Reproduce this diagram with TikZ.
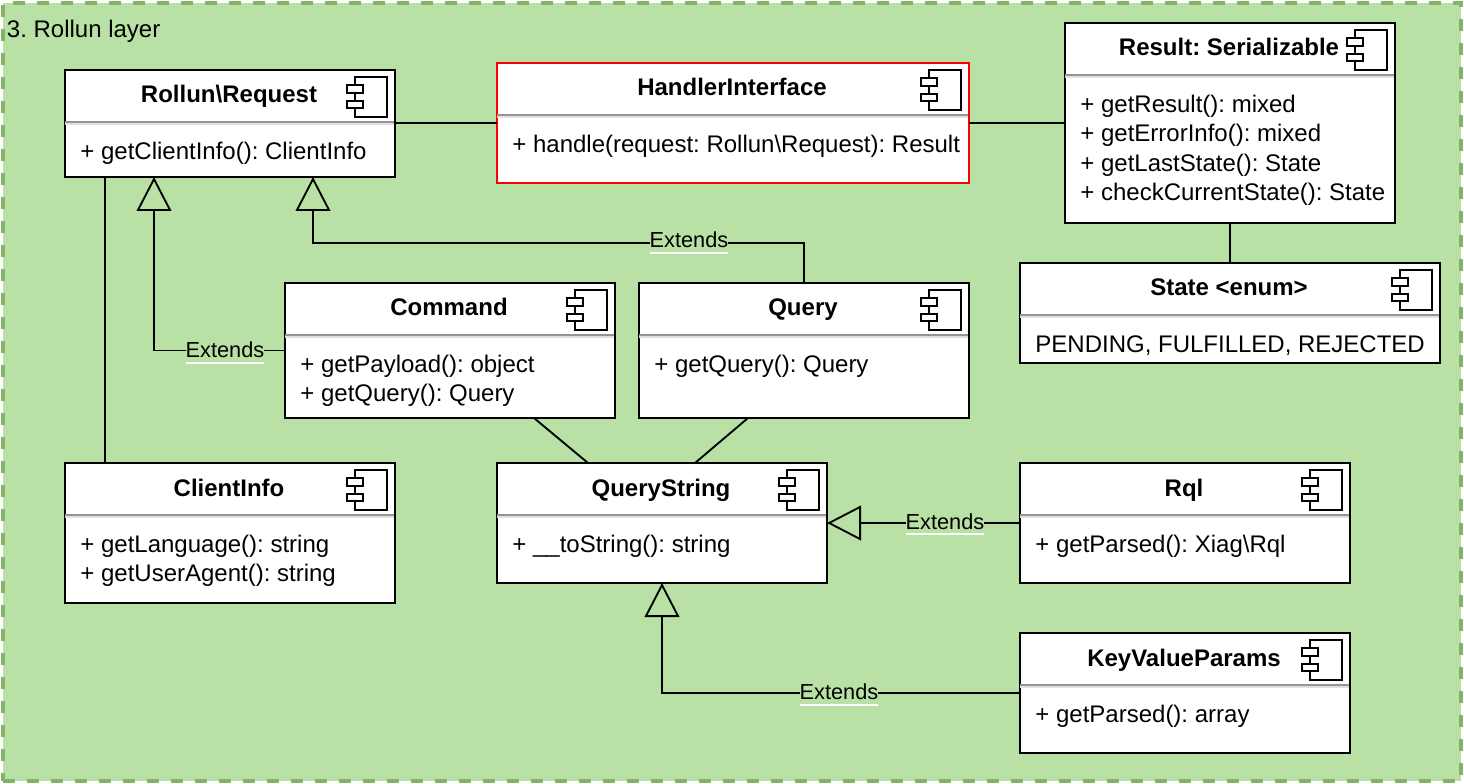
\documentclass[tikz,border=0pt]{standalone}
\usepackage{fontspec}
\setmainfont{Liberation Sans}
\usetikzlibrary{arrows.meta,calc}
\definecolor{layercolor}{HTML}{B9E0A5}
\definecolor{layerline}{HTML}{82B366}

% box with title, separator, component icon and method lines
\newcommand{\umlbox}[8][draw=black]{
    \node[umlbox, #1, minimum width=#5*0.75pt, minimum height=#6*0.75pt] (#2) at (#3,#4) {};
    \begin{scope}[shift={(#2.north west)}]
        \draw[sepshade] (0,54) -- (#5-1,54);
        \draw[sepline] (0,52) -- (#5-1,52);
        \node[boxtitle] (#2 title) at (#5/2-1,33) {#7};
        \node[boxbody] (#2 body) at (14.5,68) {\strut #8};
    \end{scope}
    \begin{scope}[shift={(#2.north east)}]
        \draw[icon] (-40,7) rectangle (-8,47);
        \draw[icon] (-48,15) rectangle (-32,23);
        \draw[icon] (-48,31) rectangle (-32,38);
    \end{scope}
}

\begin{document}
\begin{tikzpicture}[
    x=0.75pt, y=-0.75pt,
    font=\fontsize{18}{22}\selectfont\frenchspacing,
    line width=1.4pt,
    layer/.style={rectangle, draw=layerline, fill=layercolor, line width=2.6pt, dash pattern=on 9pt off 9pt, minimum width=1458*0.75pt, minimum height=778*0.75pt, outer sep=0pt},
    umlbox/.style={rectangle, fill=white, outer sep=0pt, inner sep=0pt},
    boxtitle/.style={font=\fontsize{18}{22}\selectfont\frenchspacing\bfseries, anchor=base, inner sep=0pt},
    boxbody/.style={anchor=north west, align=left, inner sep=0pt},
    sepline/.style={draw=black!42, line width=1.2pt},
    sepshade/.style={draw=black!12, line width=1.2pt},
    icon/.style={draw=black, fill=white, line width=1.2pt},
    assoc/.style={draw=black},
    extends/.style={draw=black, -{Triangle[open, length=25.5pt, width=26pt]}},
    extlabel/.style={fill=layercolor, font=\fontsize{16.3}{20}\selectfont, anchor=base, inner xsep=0pt, inner ysep=0pt, text height=12pt, text depth=4.8pt,
        path picture={\fill[white] ([yshift=1.5pt]path picture bounding box.south west) rectangle (path picture bounding box.south east);}}
]
\useasboundingbox (0,0) rectangle (1464,784);

% Layer frame
\node[layer] (frame) at (732,392) {};
\node[anchor=base west, inner sep=0pt] (frame title) at (6,37.5) {3. Rollun layer};

% Boxes
\umlbox{request}{230}{123.5}{330}{107}{Rollun\textbackslash Request}{+ getClientInfo(): ClientInfo}
\umlbox[draw=red]{handler}{733}{123}{472}{120}{HandlerInterface}{+ handle(request: Rollun\textbackslash Request): Result}
\umlbox{result}{1230}{123}{330}{200}{Result: Serializable}{+ getResult(): mixed\\+ getErrorInfo(): mixed\\+ getLastState(): State\\+ checkCurrentState(): State}
\umlbox{state}{1230}{313}{420}{100}{State <enum>}{PENDING, FULFILLED, REJECTED}
\umlbox{command}{450}{350.5}{330}{135}{Command}{+ getPayload(): object\\+ getQuery(): Query}
\umlbox{query}{804}{350.5}{330}{135}{Query}{+ getQuery(): Query}
\umlbox{client}{230}{533}{330}{140}{ClientInfo}{+ getLanguage(): string\\+ getUserAgent(): string}
\umlbox{querystring}{662}{523}{330}{120}{QueryString}{+ \_\_toString(): string}
\umlbox{rql}{1185}{523}{330}{120}{Rql}{+ getParsed(): Xiag\textbackslash Rql}
\umlbox{keyvalue}{1185}{693}{330}{120}{KeyValueParams}{+ getParsed(): array}

% Connectors
\draw[assoc] (request.east |- handler.west) -- (handler.west);
\draw[assoc] (handler.east) -- (result.west);
\draw[assoc] (result.south) -- (state.north);
\draw[assoc] ([xshift=-93.75pt]request.south) -- ([xshift=-93.75pt]client.north);
\draw[assoc] ([xshift=63pt]command.south) -- ([xshift=-55.5pt]querystring.north);
\draw[assoc] ([xshift=-42pt]query.south) -- ([xshift=24.75pt]querystring.north);

% Extends arrows
\coordinate (command up) at ([xshift=-76*0.75pt]request.south);
\coordinate (query up) at ([xshift=83*0.75pt]request.south);
\coordinate (query bend) at ([yshift=30pt]query.north);
\draw[extends] (command.west) -| (command up);
\draw[extends] (query.north) -- (query bend) -| (query up);
\draw[extends] (rql.west) -- (querystring.east);
\draw[extends] (keyvalue.west) -| (querystring.south);

\node[extlabel] (extends command) at (225,358) {Extends};
\node[extlabel] (extends query) at (689,248) {Extends};
\node[extlabel] (extends rql) at (945,529) {Extends};
\node[extlabel] (extends keyvalue) at (839,699.5) {Extends};

\end{tikzpicture}
\end{document}
